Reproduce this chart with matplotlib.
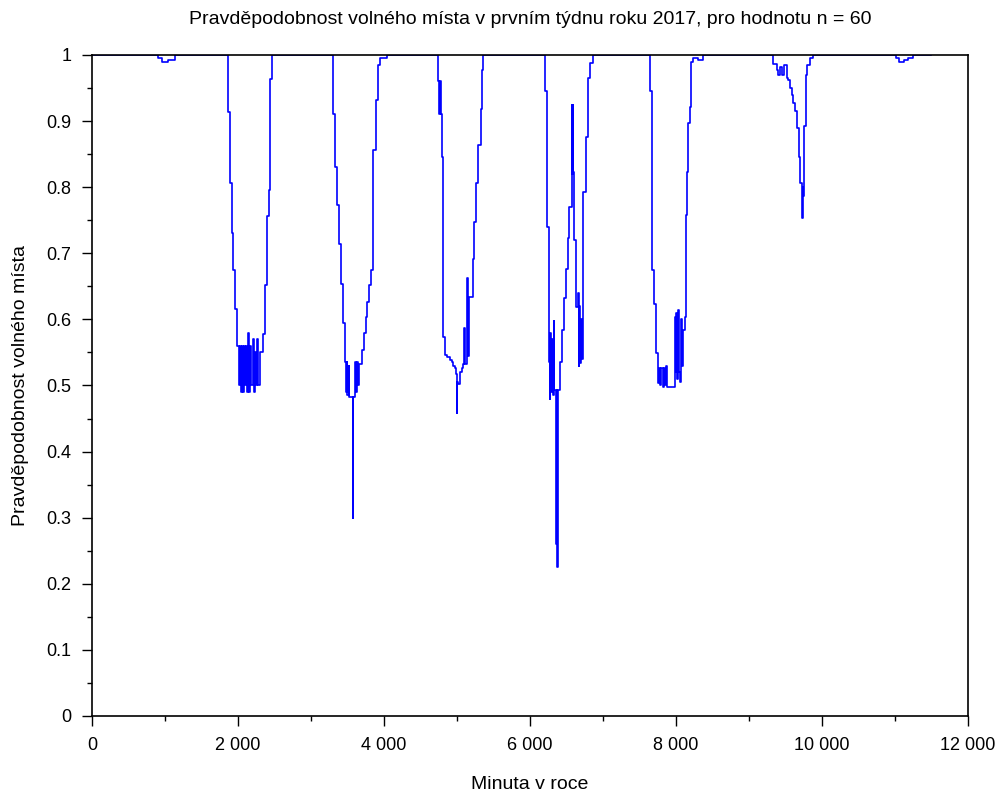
import numpy as np
import matplotlib
matplotlib.use("Agg")
import matplotlib.pyplot as plt
from matplotlib.ticker import MultipleLocator, FuncFormatter

plt.rcParams['font.family'] = ['Liberation Sans', 'DejaVu Sans']

# pravdepodobnost volneho mista (minuta, p)
# kazdy usek je schod: v dane minute skoci p na danou hodnotu
minutes_0 = [0, 900, 960, 1040, 1140]
prob_0 = [1.0, 0.995, 0.99, 0.993, 1.0]

minutes_1 = [1859, 1890, 1913, 1936, 1963, 1991, 2005, 2015, 2030, 2040, 2060, 2070,
             2085, 2095, 2110, 2120, 2135, 2150, 2170, 2185, 2200, 2215, 2235, 2250,
             2265, 2280, 2301, 2338, 2370, 2393, 2402, 2425, 2438, 2470]
prob_1 = [0.913, 0.807, 0.731, 0.675, 0.616, 0.559, 0.56, 0.50, 0.56, 0.49, 0.56, 0.49,
          0.56, 0.50, 0.56, 0.49, 0.58, 0.49, 0.56, 0.50, 0.57, 0.49, 0.55, 0.50,
          0.57, 0.50, 0.551, 0.578, 0.652, 0.72, 0.757, 0.795, 0.963, 1.0]

minutes_2 = [3306, 3329, 3352, 3384, 3411, 3434, 3466, 3479, 3490, 3500, 3515, 3525,
             3571, 3578, 3600, 3610, 3625, 3640, 3655, 3703, 3726, 3749, 3772, 3795,
             3817, 3854, 3886, 3913, 3945, 4037]
prob_2 = [0.91, 0.831, 0.773, 0.714, 0.653, 0.595, 0.536, 0.49, 0.535, 0.485, 0.53, 0.482,
          0.30, 0.482, 0.535, 0.49, 0.535, 0.50, 0.533, 0.554, 0.579, 0.604, 0.627, 0.652,
          0.675, 0.856, 0.932, 0.985, 0.995, 1.0]

minutes_3 = [4744, 4760, 4770, 4780, 4790, 4813, 4836, 4859, 4900, 4927, 4950, 4973,
             4990, 4996, 5003, 5018, 5040, 5064, 5087, 5100, 5108, 5132, 5141, 5155,
             5165, 5215, 5233, 5260, 5292, 5329, 5347, 5360]
prob_3 = [0.96, 0.91, 0.96, 0.91, 0.846, 0.574, 0.546, 0.543, 0.538, 0.536, 0.53, 0.526,
          0.518, 0.459, 0.505, 0.502, 0.52, 0.526, 0.532, 0.587, 0.532, 0.535, 0.663, 0.545,
          0.634, 0.692, 0.748, 0.806, 0.864, 0.919, 0.977, 1.0]

minutes_4 = [6205, 6228, 6260, 6270, 6280, 6290, 6300, 6310, 6325, 6333, 6360, 6367,
             6372, 6380, 6411, 6443, 6466, 6489, 6516, 6539, 6571, 6578, 6585, 6592,
             6603, 6630, 6653, 6665, 6676, 6690, 6700, 6715, 6731, 6763, 6790, 6822, 6868]
prob_4 = [0.946, 0.740, 0.536, 0.48, 0.58, 0.49, 0.57, 0.485, 0.597, 0.493, 0.26, 0.493,
          0.225, 0.493, 0.536, 0.584, 0.632, 0.676, 0.723, 0.770, 0.924, 0.82, 0.924, 0.823,
          0.72, 0.619, 0.64, 0.53, 0.62, 0.534, 0.60, 0.54, 0.793, 0.876, 0.965, 0.988, 1.0]

minutes_5 = [7644, 7676, 7703, 7726, 7749, 7772, 7785, 7795, 7818, 7840, 7852, 7859,
             7872, 7986, 7995, 8005, 8015, 8032, 8045, 8055, 8070, 8085, 8100, 8123,
             8132, 8146, 8169, 8192, 8201, 8237, 8300, 8366]
prob_5 = [0.945, 0.675, 0.624, 0.549, 0.503, 0.527, 0.50, 0.527, 0.498, 0.527, 0.50, 0.53,
          0.498, 0.604, 0.52, 0.61, 0.51, 0.614, 0.52, 0.506, 0.60, 0.53, 0.584, 0.604,
          0.758, 0.823, 0.897, 0.922, 0.99, 0.995, 0.993, 1.0]

minutes_6 = [9265, 9334, 9379, 9402, 9425, 9457, 9480, 9516, 9539, 9562, 9584, 9607,
             9630, 9653, 9685, 9699, 9722, 9726, 9735, 9744, 9758, 9776, 9799, 9836, 9872]
prob_6 = [1.0, 0.987, 0.977, 0.97, 0.982, 0.97, 0.985, 0.965, 0.962, 0.95, 0.94, 0.927,
          0.915, 0.889, 0.846, 0.806, 0.786, 0.753, 0.80, 0.786, 0.892, 0.97, 0.985, 0.995, 1.0]

minutes_7 = [11015, 11060, 11120, 11180, 11250, 11500]
prob_7 = [0.995, 0.99, 0.992, 0.995, 1.0, 1.0]

x_ticks = [0, 2000, 4000, 6000, 8000, 10000, 12000]
y_ticks = [0, 0.1, 0.2, 0.3, 0.4, 0.5, 0.6, 0.7, 0.8, 0.9, 1]

minuty = np.concatenate([minutes_0, minutes_1, minutes_2, minutes_3,
                         minutes_4, minutes_5, minutes_6, minutes_7])
pst = np.concatenate([prob_0, prob_1, prob_2, prob_3,
                      prob_4, prob_5, prob_6, prob_7])

fig = plt.figure(figsize=(10.03, 7.92), dpi=100)
ax = fig.add_axes([0.0917, 0.096, 0.8734, 0.8346])

ax.step(minuty, pst, where='post', color='#0000ff', linewidth=1.2, zorder=1)

ax.set_xlim(0, 12000)
ax.set_ylim(0, 1)
ax.set_xticks(x_ticks)
ax.set_yticks(y_ticks)
ax.xaxis.set_minor_locator(MultipleLocator(1000))
ax.yaxis.set_minor_locator(MultipleLocator(0.05))
ax.xaxis.set_major_formatter(FuncFormatter(lambda v, p: f"{int(v):,}".replace(",", " ")))
ax.yaxis.set_major_formatter(FuncFormatter(lambda v, p: "0" if v == 0 else ("1" if v == 1 else f"{v:.1f}")))

ax.tick_params(which='major', direction='out', length=7, width=1, labelsize=13, pad=8)
ax.tick_params(which='minor', direction='out', length=3.5, width=1)
ax.tick_params(top=False, right=False)
for s in ax.spines.values():
    s.set_linewidth(1.2)
    s.set_zorder(3)

ax.set_title("Pravděpodobnost volného místa v prvním týdnu roku 2017, pro hodnotu n = 60",
             fontsize=14, pad=22)
ax.set_xlabel("Minuta v roce", fontsize=14, labelpad=16)
ax.set_ylabel("Pravděpodobnost volného místa", fontsize=14, labelpad=12)

fig.savefig("out.png", dpi=100)
